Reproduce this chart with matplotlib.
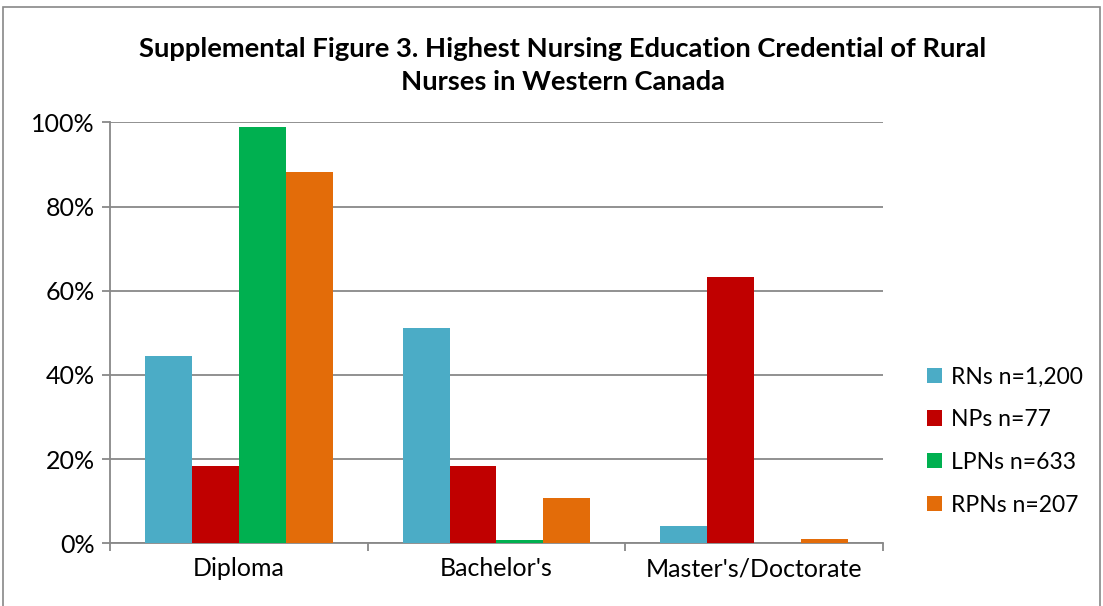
import numpy as np
import matplotlib.pyplot as plt
from matplotlib.patches import Rectangle

plt.rcParams['font.family'] = ['Lato', 'DejaVu Sans']

categories = ["Diploma", "Bachelor's", "Master's/Doctorate"]
series_names = ["RNs n=1,200", "NPs n=77", "LPNs n=633", "RPNs n=207"]
rns = [44.6, 51.1, 4.1]
nps = [18.3, 18.3, 63.2]
lpns = [99.0, 0.8, 0.0]
rpns = [88.2, 10.7, 0.95]
colors = ['#4BACC6', '#C00000', '#00B050', '#E36C09']

fig = plt.figure(figsize=(11.03, 6.06), dpi=100)
ax = fig.add_axes([0.0997, 0.1035, 0.7008, 0.6945])

x = np.arange(len(categories))
w = 0.182
for i, (vals, name, c) in enumerate(zip([rns, nps, lpns, rpns], series_names, colors)):
    ax.bar(x + (i - 1.5) * w, vals, w, color=c, label=name, zorder=3)

ax.set_xlim(-0.5, 2.5)
ax.set_ylim(0, 100)
ax.set_yticks(range(0, 101, 20))
ax.set_yticklabels([f"{v}%" for v in range(0, 101, 20)])
ax.set_xticks(x)
ax.set_xticklabels(categories)
ax.set_xticks([-0.5, 0.5, 1.5, 2.5], minor=True)
ax.tick_params(axis='x', which='major', length=0, pad=10, labelsize=18)
ax.tick_params(axis='x', which='minor', length=6, width=1.3, color='#888888', direction='out')
ax.tick_params(axis='y', length=6, width=1.3, color='#888888', labelsize=18, pad=5)
ax.grid(axis='y', color='#888888', lw=1.3, zorder=0)
for s in ['top', 'right']:
    ax.spines[s].set_visible(False)
for s in ['left', 'bottom']:
    ax.spines[s].set_color('#888888')
    ax.spines[s].set_linewidth(1.3)

ax.legend(loc='center left', bbox_to_anchor=(1.03, 0.243), frameon=False,
          fontsize=16.5, handlelength=0.65, handleheight=0.65, labelspacing=0.95,
          handletextpad=0.4)

fig.text(0.51, 0.892, "Supplemental Figure 3. Highest Nursing Education Credential of Rural\nNurses in Western Canada",
         ha='center', va='center', fontsize=19.7, fontweight='bold', linespacing=1.45)

fig.patches.append(Rectangle((3 / 1103, -0.01), 1097 / 1103, 1 - 7 / 606 + 0.01,
                             transform=fig.transFigure, fill=False,
                             edgecolor='#888888', lw=1.2))

fig.savefig('out.png', dpi=100)
